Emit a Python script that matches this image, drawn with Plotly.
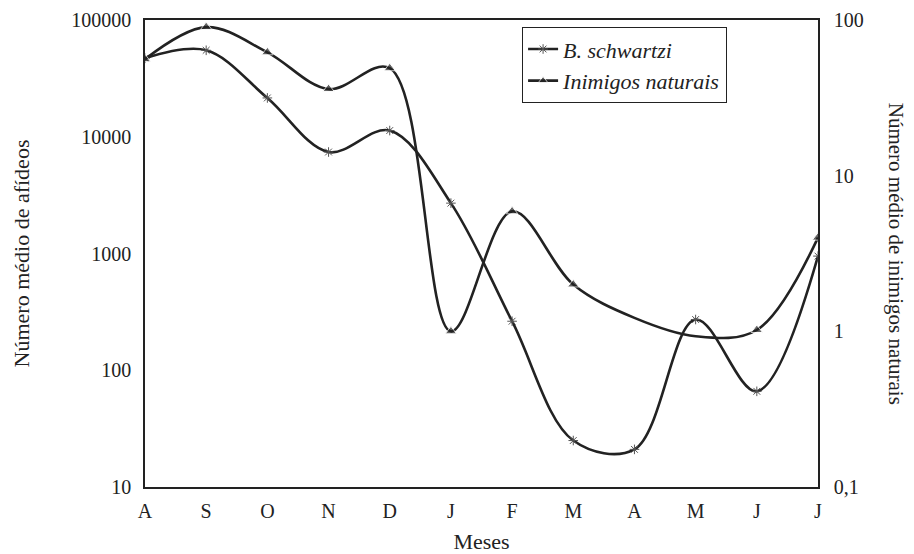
import plotly.graph_objects as go

months = ["A", "S", "O", "N", "D", "J", "F", "M", "A", "M", "J", "J"]
x_idx = list(range(len(months)))

schwartzi = [47000, 55000, 21500, 7400, 11300, 2700, 263, 25, 21, 272, 66, 950]
inimigos = [56, 90, 62, 36, 49, 1.0, 5.9, 2.0, 1.22, 0.93, 1.02, 4.0]
inimigos_marker_size = [10, 10, 10, 10, 10, 10, 10, 10, 0, 0, 10, 10]

FONT = "Liberation Serif"

fig = go.Figure()
fig.add_trace(go.Scatter(
    x=x_idx, y=schwartzi, name="<i>B. schwartzi</i>",
    mode="lines+markers",
    line=dict(color="#222", width=2.6, shape="spline", smoothing=1.0),
    marker=dict(symbol="asterisk-open", size=8, color="#555", line=dict(color="#555", width=1)),
    yaxis="y",
))
fig.add_trace(go.Scatter(
    x=x_idx, y=inimigos, name="<i>Inimigos naturais</i>",
    mode="lines+markers",
    line=dict(color="#222", width=2.6, shape="spline", smoothing=1.0),
    marker=dict(symbol="triangle-up", size=inimigos_marker_size, color="#222"),
    yaxis="y2",
))

fig.update_layout(
    width=914, height=554,
    margin=dict(l=145, r=96, t=20, b=67),
    paper_bgcolor="white", plot_bgcolor="white",
    font=dict(family=FONT, size=20, color="#222"),
    showlegend=True,
    legend=dict(
        x=0.56, y=0.985, xanchor="left", yanchor="top",
        bgcolor="white", bordercolor="#222", borderwidth=1.2,
        font=dict(family=FONT, size=22, color="#222"),
        itemwidth=30, tracegroupgap=0,
    ),
    xaxis=dict(
        range=[0, 11], tickmode="array", tickvals=x_idx, ticktext=months,
        showgrid=False, zeroline=False, showline=True, linecolor="#222", linewidth=1.5,
        mirror=True, ticks="", ticklabelstandoff=5, automargin=False,
        title=dict(text="Meses", font=dict(family=FONT, size=22), standoff=18),
    ),
    yaxis=dict(
        type="log", range=[1, 5], tickmode="array",
        tickvals=[10, 100, 1000, 10000, 100000],
        ticktext=["10", "100", "1000", "10000", "100000"],
        showgrid=False, zeroline=False, showline=True, linecolor="#222", linewidth=1.5,
        ticks="", ticklabelstandoff=8, automargin=False,
        title=dict(text="Número médio de afídeos", font=dict(family=FONT, size=22), standoff=36),
    ),
    yaxis2=dict(
        type="log", range=[-1, 2], overlaying="y", side="right", tickmode="array",
        tickvals=[0.1, 1, 10, 100], ticktext=["0,1", "1", "10", "100"],
        showgrid=False, zeroline=False, showline=True, linecolor="#222", linewidth=1.5,
        ticks="", ticklabelstandoff=10, automargin=False,
    ),
    annotations=[dict(
        text="Número médio de inimigos naturais", textangle=90,
        xref="paper", yref="paper", x=1.117, y=0.5, xanchor="center", yanchor="middle",
        showarrow=False, font=dict(family=FONT, size=21, color="#222"),
    )],
)

fig.write_html("out.html")
